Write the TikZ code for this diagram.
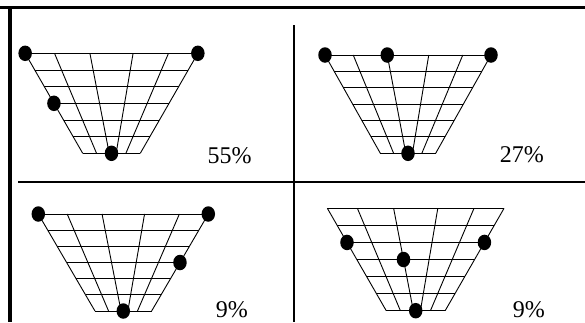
\documentclass[tikz,border=0pt]{standalone}
\usepackage{fontspec}
\setmainfont{Liberation Serif}
\usetikzlibrary{calc,shapes.geometric}

% one funnel grid: name, centre x, top y, top width, height
\newcommand{\funnel}[5]{%
  \foreach \i/\a/\b in {0/0/0,1/.17/.24,2/.375/.46,3/.625/.58,4/.83/.75,5/1/1}{
    \coordinate (#1-\i-t) at ({#2+(\a-.5)*#4},#3);
    \coordinate (#1-\i-b) at ({#2+(\b-.5)*#4/3},{#3+#5});
    \draw[grid] (#1-\i-t) -- (#1-\i-b);
  }
  \foreach \j in {0,...,6}{
    \draw[grid] ($(#1-0-t)!\j/6!(#1-0-b)$) -- ($(#1-5-t)!\j/6!(#1-5-b)$);
  }
}

\begin{document}
\begin{tikzpicture}[x=1pt, y=-1pt,
    grid/.style={line width=0.9pt, black},
    frame/.style={line width=#1, black},
    dot/.style={ellipse, fill=black, inner sep=0pt,
                minimum width=13.5pt, minimum height=15.5pt},
    pct/.style={anchor=base east, inner sep=0pt,
                font=\fontsize{24}{28}\selectfont}
  ]
  \useasboundingbox (0,0) rectangle (585,322);

  % frame and dividers
  \draw[frame=3.3pt] (0,7.7) -- (585,7.7);
  \draw[frame=4.3pt] (10.2,6) -- (10.2,322);
  \draw[frame=2pt] (294,25) -- (294,322);
  \draw[frame=2pt] (18,181.7) -- (585,181.7);

  % grids
  \funnel{tl}{111.5}{53.3}{172.7}{100}
  \funnel{tr}{408}{55}{166}{98.3}
  \funnel{bl}{123.3}{214}{170}{97}
  \funnel{br}{415.7}{208.3}{176.7}{102.4}

  % top left
  \node[dot] (tla) at (tl-0-t) {};
  \node[dot] (tlb) at (tl-5-t) {};
  \node[dot] (tlc) at ($(tl-0-t)!.5!(tl-0-b)$) {};
  \node[dot] (tld) at ($(tl-0-b)!.5!(tl-5-b)$) {};
  \node[pct] (tlp) at (251.7,163) {55\%};

  % top right
  \node[dot] (tra) at (tr-0-t) {};
  \node[dot] (trb) at (tr-2-t) {};
  \node[dot] (trc) at (tr-5-t) {};
  \node[dot] (trd) at ($(tr-0-b)!.5!(tr-5-b)$) {};
  \node[pct] (trp) at (544,162) {27\%};

  % bottom left
  \node[dot] (bla) at (bl-0-t) {};
  \node[dot] (blb) at (bl-5-t) {};
  \node[dot] (blc) at ($(bl-5-t)!.5!(bl-5-b)$) {};
  \node[dot] (bld) at ($(bl-0-b)!.5!(bl-5-b)$) {};
  \node[pct] (blp) at (248,317.5) {9\%};

  % bottom right
  \node[dot] (bra) at ($(br-0-t)!1/3!(br-0-b)$) {};
  \node[dot] (brb) at ($(br-5-t)!1/3!(br-5-b)$) {};
  \node[dot] (brc) at ($(br-2-t)!.5!(br-2-b)$) {};
  \node[dot] (brd) at ($(br-0-b)!.5!(br-5-b)$) {};
  \node[pct] (brp) at (545,317.5) {9\%};
\end{tikzpicture}
\end{document}
